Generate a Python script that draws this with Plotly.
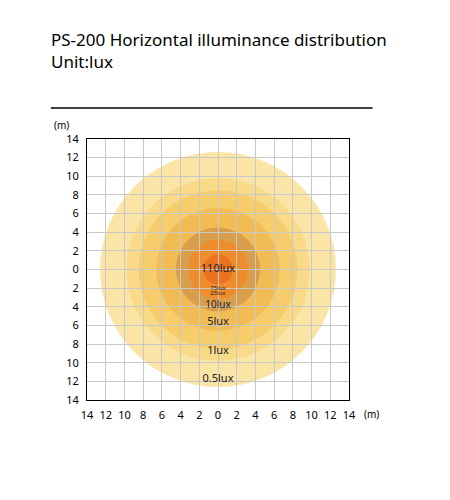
import plotly.graph_objects as go

ticks = [-14,-12,-10,-8,-6,-4,-2,0,2,4,6,8,10,12,14]
tick_text = [str(abs(t)) for t in ticks]
radii = [12.6, 9.8, 8.5, 6.6, 4.5, 3.2, 1.6]
colors = ["#FBE5A6", "#F9DA88", "#F7CD6C", "#F2BC55", "#D99E4B", "#EF8C2C", "#EB7320"]
labels = ["110lux", "75lux", "25lux", "10lux", "5lux", "1lux", "0.5lux"]
label_y = [0, -2.0, -2.6, -3.9, -5.7, -8.8, -11.8]
label_size = [11, 6, 6, 10, 11, 11, 11]

fig = go.Figure()
shapes = []
for r, c in zip(radii, colors):
    shapes.append(dict(type="circle", xref="x", yref="y", x0=-r, x1=r, y0=-r, y1=r,
                       fillcolor=c, line=dict(width=0), layer="below"))
shapes.append(dict(type="line", xref="paper", yref="paper", x0=-0.138, x1=1.09, y0=1.119, y1=1.119,
                   line=dict(color="black", width=1.5)))
fig.add_trace(go.Scatter(x=[0]*len(labels), y=label_y, text=labels, mode="text",
                         textfont=dict(size=label_size, color="#222", family="Noto Sans"),
                         hoverinfo="skip", showlegend=False))
ann = [
    dict(text="PS-200 Horizontal illuminance distribution<br>Unit:lux", xref="paper", yref="paper",
         x=-0.145, y=1.245, xanchor="left", yanchor="bottom", showarrow=False, align="left",
         font=dict(size=17, color="black", family="Noto Sans")),
    dict(text="(m)", xref="paper", yref="paper", x=-0.06, y=1.02, xanchor="right", yanchor="bottom",
         showarrow=False, font=dict(size=10, color="black")),
    dict(text="(m)", xref="paper", yref="paper", x=1.05, y=-0.02, xanchor="left", yanchor="top",
         showarrow=False, font=dict(size=10, color="black")),
]
axis = dict(range=[-14, 14], tickvals=ticks, ticktext=tick_text, showgrid=True,
            gridcolor="#C8C8C8", gridwidth=1, zeroline=False, showline=True, linecolor="black",
            mirror=True, fixedrange=True, automargin=False, ticks="outside", ticklen=5,
            tickcolor="rgba(0,0,0,0)")
fig.update_layout(
    width=450, height=500, margin=dict(l=79, r=109, t=131, b=108),
    paper_bgcolor="white", plot_bgcolor="white", shapes=shapes, annotations=ann,
    font=dict(family="Noto Sans", size=11, color="black"),
    xaxis=axis, yaxis=axis,
)
fig.write_html("out.html")
